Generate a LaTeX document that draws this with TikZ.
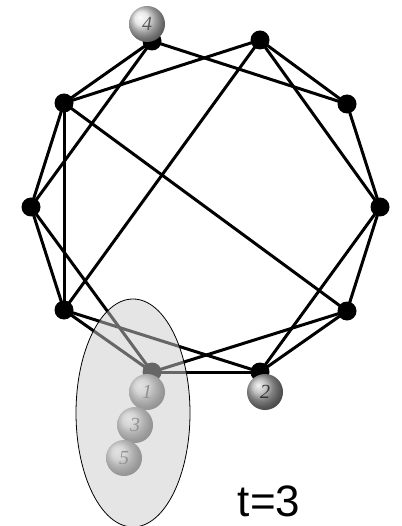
\documentclass[tikz,border=0pt]{standalone}
\usepackage{fontspec}
\usetikzlibrary{shapes.geometric}
\newfontfamily\arialf{Liberation Sans}
\newfontfamily\timesf{Liberation Serif}
\begin{document}
\begin{tikzpicture}[x=1pt,y=-1pt,
  vert/.style={circle,fill=black,inner sep=0pt,minimum size=19pt},
  edge/.style={line width=3pt},
  ballnode/.style={circle,shading=ball,inner sep=0pt,minimum size=36pt,
    font=\timesf\itshape\fontsize{20}{20}\selectfont,text=black!65}]
\useasboundingbox (0,0) rectangle (401,526);
\node[vert] (A) at (152,41) {};
\node[vert] (B) at (260,40) {};
\node[vert] (C) at (64,103) {};
\node[vert] (D) at (347,104) {};
\node[vert] (E) at (31,207) {};
\node[vert] (F) at (380,207) {};
\node[vert] (G) at (64,310) {};
\node[vert] (H) at (347,311) {};
\node[vert] (I) at (152,372) {};
\node[vert] (J) at (260,372) {};
\foreach \a/\b in {A/C,A/E,A/D,B/C,B/D,B/F,B/G,C/E,C/G,C/H,D/F,E/G,E/I,F/H,F/J,G/I,G/J,H/I,H/J,I/J}
  \draw[edge] (\a.center) -- (\b.center);
\node[ballnode,ball color=black!12] (b4) at (147,24) {4};
\node[ballnode,ball color=black!15] (b1) at (147,392) {1};
\node[ballnode,ball color=black!15] (b3) at (135,425) {3};
\node[ballnode,ball color=black!15] (b5) at (124,458) {5};
\node[ballnode,ball color=black!30,text=black!80] (b2) at (265,392) {2};
\node[ellipse,draw=black,line width=0.8pt,fill=black!20,fill opacity=0.5,
  minimum width=114pt,minimum height=228pt,inner sep=0pt] (grp) at (133,413) {};
\node[font=\arialf\fontsize{44}{44}\selectfont,inner sep=0pt] (t) at (269,501) {t=3};
\end{tikzpicture}
\end{document}
